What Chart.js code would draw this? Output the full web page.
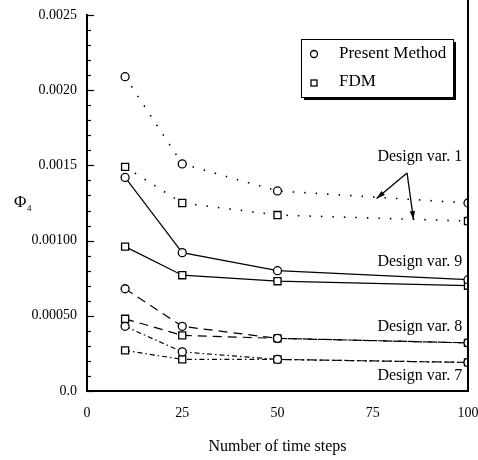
<!DOCTYPE html>
<html>
<head>
<meta charset="utf-8">
<script src="https://cdn.jsdelivr.net/npm/chart.js@4.4.0/dist/chart.umd.min.js"></script>
<style>
  html, body { margin: 0; padding: 0; background: #fff; }
  #wrap { width: 478px; height: 460px; }
</style>
</head>
<body>
<div id="wrap"><canvas id="phiChart" width="478" height="460"></canvas></div>
<script>
// time steps and Phi_4 values
const steps = [10, 25, 50, 100];
const dv1Present = [0.00209, 0.00151, 0.00133, 0.00125];
const dv1Fdm     = [0.00149, 0.00125, 0.00117, 0.00113];
const dv9Present = [0.00142, 0.00092, 0.00080, 0.00074];
const dv9Fdm     = [0.00096, 0.00077, 0.00073, 0.00070];
const dv8Present = [0.00068, 0.00043, 0.00035, 0.00032];
const dv8Fdm     = [0.00048, 0.00037, 0.00035, 0.00032];
const dv7Present = [0.00043, 0.00026, 0.00021, 0.00019];
const dv7Fdm     = [0.00027, 0.00021, 0.00021, 0.00019];

const xTicks = [0, 25, 50, 75, 100];
const yTicks = [0, 0.0005, 0.0010, 0.0015, 0.0020, 0.0025];
const yTickLabels = ['0.0', '0.00050', '0.00100', '0.0015', '0.0020', '0.0025'];

// curve labels: [text, x, y] in data units
const curveLabels = [
  ['Design var. 1', 98.5, 0.00156],
  ['Design var. 9', 98.5, 0.00086],
  ['Design var. 8', 98.5, 0.000425],
  ['Design var. 7', 98.5, 0.0001]
];
// arrow for design var 1: tail and two heads
const arrowTail = [84, 0.00145];
const arrowHeads = [[76, 0.00128], [85.7, 0.00114]];

const SERIF = '"Liberation Serif", "DejaVu Serif", serif';

function toXY(ys) {
  return steps.map((s, i) => ({ x: s, y: ys[i] }));
}

function series(ys, style, dash) {
  return {
    data: toXY(ys),
    borderColor: '#000',
    borderWidth: dash.length && dash[0] < 2 ? 1.6 : 1.2,
    borderDash: dash,
    pointStyle: style,
    pointRadius: style === 'rect' ? 5 : 4,
    pointBorderWidth: 1.3,
    pointBorderColor: '#000',
    pointBackgroundColor: '#fff',
    fill: false,
    tension: 0
  };
}

const dotted = [1.5, 10];
const dashed = [9, 6];
const dashDot = [5, 3, 1.5, 3];

// extra drawing: minor ticks, right frame, legend box, labels, arrows
const decorPlugin = {
  id: 'decor',
  afterDatasetsDraw(chart) {
    const { ctx, chartArea, scales } = chart;
    const x = scales.x, y = scales.y;
    ctx.save();
    ctx.strokeStyle = '#000';
    ctx.fillStyle = '#000';

    // inner ticks on y axis
    ctx.lineWidth = 1.2;
    for (let i = 0; i <= 25; i++) {
      const py = Math.round(y.getPixelForValue(i * 0.0001)) + 0.5;
      const len = i % 5 === 0 ? 7 : 4;
      ctx.beginPath();
      ctx.moveTo(chartArea.left, py);
      ctx.lineTo(chartArea.left + len, py);
      ctx.stroke();
    }

    // right frame line
    ctx.lineWidth = 2;
    ctx.beginPath();
    ctx.moveTo(chartArea.right, 0);
    ctx.lineTo(chartArea.right, chartArea.bottom);
    ctx.stroke();

    // legend box with shadow
    const bx = 301, by = 39, bw = 152, bh = 58;
    ctx.fillStyle = '#000';
    ctx.fillRect(bx + 3, by + 3, bw, bh);
    ctx.fillStyle = '#fff';
    ctx.fillRect(bx, by, bw, bh);
    ctx.lineWidth = 1;
    ctx.strokeRect(bx + 0.5, by + 0.5, bw, bh);
    ctx.fillStyle = '#000';
    ctx.font = '17px ' + SERIF;
    ctx.textBaseline = 'middle';
    ctx.textAlign = 'left';
    ctx.fillText('Present Method', 339, 54);
    ctx.fillText('FDM', 339, 82);
    ctx.lineWidth = 1.3;
    ctx.beginPath();
    ctx.arc(314, 54, 3.5, 0, Math.PI * 2);
    ctx.stroke();
    ctx.strokeRect(311, 80, 6, 6);

    // curve labels
    ctx.font = '16px ' + SERIF;
    ctx.textAlign = 'right';
    curveLabels.forEach(([t, lx, ly]) => {
      ctx.fillText(t, x.getPixelForValue(lx), y.getPixelForValue(ly));
    });

    // arrows
    const tx = x.getPixelForValue(arrowTail[0]);
    const ty = y.getPixelForValue(arrowTail[1]);
    ctx.lineWidth = 1.3;
    arrowHeads.forEach(([hx0, hy0]) => {
      const hx = x.getPixelForValue(hx0), hy = y.getPixelForValue(hy0);
      ctx.beginPath();
      ctx.moveTo(tx, ty);
      ctx.lineTo(hx, hy);
      ctx.stroke();
      const a = Math.atan2(hy - ty, hx - tx);
      const L = 9, w = 0.3;
      ctx.beginPath();
      ctx.moveTo(hx, hy);
      ctx.lineTo(hx - L * Math.cos(a - w), hy - L * Math.sin(a - w));
      ctx.lineTo(hx - L * Math.cos(a + w), hy - L * Math.sin(a + w));
      ctx.closePath();
      ctx.fill();
    });

    // y axis symbol
    ctx.textAlign = 'left';
    ctx.font = '17px ' + SERIF;
    ctx.fillText('\u03A6', 14, 203);
    ctx.font = '9px ' + SERIF;
    ctx.fillText('4', 27, 209);
    ctx.restore();
  }
};

new Chart(document.getElementById('phiChart'), {
  type: 'line',
  data: {
    datasets: [
      series(dv1Present, 'circle', dotted),
      series(dv1Fdm, 'rect', dotted),
      series(dv9Present, 'circle', []),
      series(dv9Fdm, 'rect', []),
      series(dv8Present, 'circle', dashed),
      series(dv8Fdm, 'rect', dashed),
      series(dv7Present, 'circle', dashDot),
      series(dv7Fdm, 'rect', dashDot)
    ]
  },
  options: {
    responsive: false,
    animation: false,
    layout: { padding: { top: 15, right: 10, left: 0, bottom: 0 } },
    plugins: {
      legend: { display: false },
      tooltip: { enabled: false }
    },
    scales: {
      x: {
        type: 'linear',
        min: 0,
        max: 100,
        afterBuildTicks: s => { s.ticks = xTicks.map(v => ({ value: v })); },
        grid: { display: false, drawTicks: false },
        border: { display: true, color: '#000', width: 2 },
        ticks: {
          color: '#000',
          padding: 14,
          maxRotation: 0,
          font: { family: SERIF, size: 14 }
        },
        title: {
          display: true,
          text: 'Number of time steps',
          color: '#000',
          padding: { top: 8 },
          font: { family: SERIF, size: 16 }
        },
        afterFit: s => { s.height = 69; s.paddingLeft = 0; s.paddingRight = 0; }
      },
      y: {
        min: 0,
        max: 0.0025,
        afterBuildTicks: s => { s.ticks = yTicks.map(v => ({ value: v })); },
        grid: { display: false, drawTicks: false },
        border: { display: true, color: '#000', width: 2 },
        ticks: {
          color: '#000',
          padding: 10,
          font: { family: SERIF, size: 14 },
          callback: (v, i) => yTickLabels[i]
        },
        afterFit: s => { s.width = 87; s.paddingTop = 0; s.paddingBottom = 0; }
      }
    }
  },
  plugins: [decorPlugin]
});
</script>
</body>
</html>
